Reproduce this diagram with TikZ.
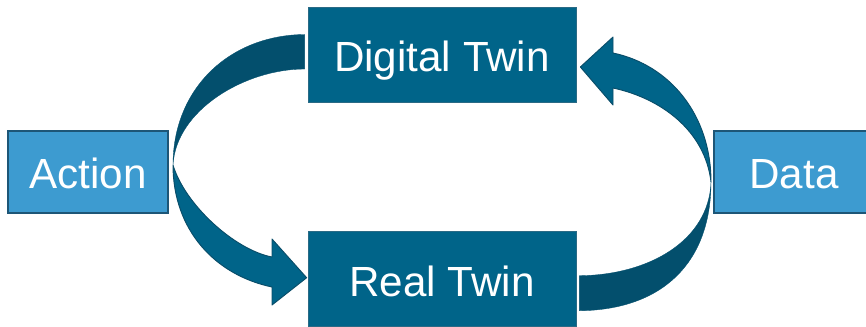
\documentclass[tikz,border=0pt]{standalone}
\usepackage{fontspec}
\setmainfont{Liberation Sans}
\usetikzlibrary{positioning,calc}

\definecolor{twinblue}{HTML}{006489}
\definecolor{twinedge}{HTML}{2A6A85}
\definecolor{sideblue}{HTML}{3D9BD0}
\definecolor{sideedge}{HTML}{1D5677}
\definecolor{backblue}{HTML}{034F6D}
\definecolor{arrowedge}{HTML}{0A4D69}

\begin{document}
\begin{tikzpicture}[x=0.03cm, y=-0.03cm]

% Define styles
\tikzstyle{twin} = [rectangle, minimum width=8.04cm, minimum height=2.85cm, draw=twinedge, fill=twinblue, line width=0.6pt, text=white, font=\fontsize{36}{40}\selectfont, text height=29pt, text depth=0pt]
\tikzstyle{side} = [rectangle, minimum width=4.8cm, minimum height=2.46cm, draw=sideedge, fill=sideblue, line width=1pt, text=white, font=\fontsize{36}{40}\selectfont, text height=29pt, text depth=0pt]
\tikzstyle{front} = [fill=twinblue, draw=arrowedge, line width=0.8pt, line join=round]
\tikzstyle{back} = [fill=backblue, draw=backblue, line width=0.3pt]

\useasboundingbox (0,0) rectangle (866,326);

% TWINS
\node (dt) [twin] at (442,54.5) {Digital Twin};
\node (rt) [twin, below=3.87cm of dt] {Real Twin};

% SIDE BOXES
\node (action) [side] at (88,172) {Action};
\node (data) [side] at (794,172) {Data};

% Left loop: Digital Twin to Real Twin
\coordinate (lx) at (173,165);
\filldraw [back] ($(dt.west)+(-3,-20)$) .. controls (230,35) and (173,88) .. (lx)
  .. controls (176,110) and (245,69) .. ($(dt.west)+(-3,14.5)$) -- cycle;
\filldraw [front] (lx) .. controls (173,230) and (215,275) .. (272,287) -- (272,305)
  -- ($(rt.west)+(-1,-1.5)$) -- (272,239) -- (272,257)
  .. controls (235,250) and (185,205) .. (lx) -- cycle;

% Right loop: Real Twin to Digital Twin
\coordinate (rx) at (711,182);
\filldraw [back] (rx) .. controls (711,265) and (660,310) .. ($(rt.east)+(3,31.5)$)
  -- ($(rt.east)+(3,-3.5)$) .. controls (650,275) and (709,240) .. (rx) -- cycle;
\filldraw [front] (rx) .. controls (711,115) and (670,65) .. (613,53) -- (613,37)
  -- ($(dt.east)+(4,12.5)$) -- (613,105) -- (613,88)
  .. controls (660,98) and (705,130) .. (rx) -- cycle;

\end{tikzpicture}
\end{document}
